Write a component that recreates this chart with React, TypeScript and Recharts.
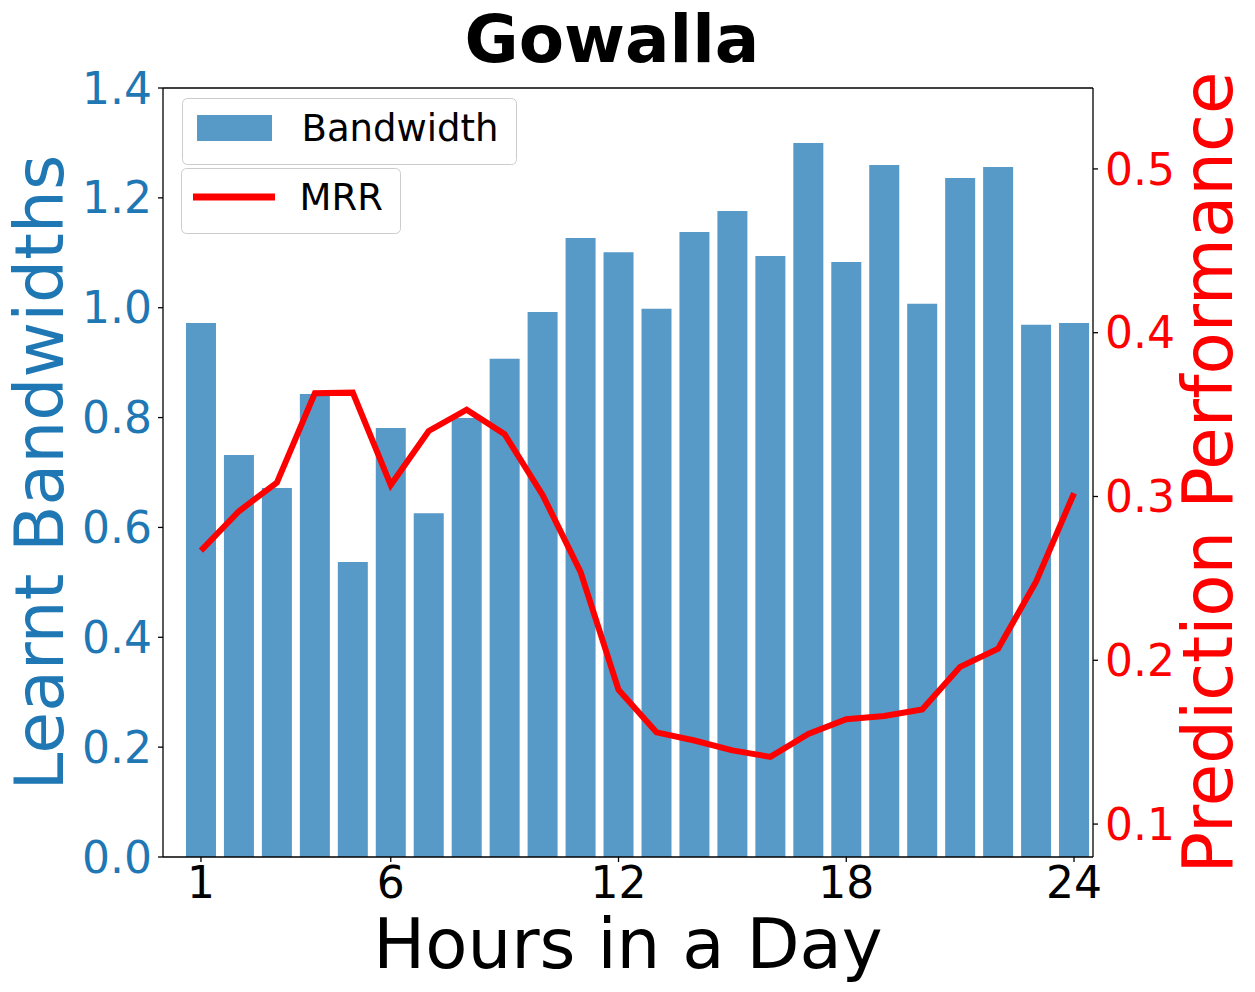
import { ComposedChart, Bar, Line, XAxis, YAxis, Legend, ReferenceLine, Label } from 'recharts';

const hours = [1, 2, 3, 4, 5, 6, 7, 8, 9, 10, 11, 12, 13, 14, 15, 16, 17, 18, 19, 20, 21, 22, 23, 24];
const bandwidth = [
  0.972, 0.732, 0.672, 0.843, 0.537, 0.781, 0.626, 0.799, 0.907, 0.992, 1.127, 1.101,
  0.998, 1.138, 1.176, 1.094, 1.3, 1.083, 1.26, 1.007, 1.236, 1.256, 0.969, 0.972,
];
const mrr = [
  0.267, 0.291, 0.3085, 0.363, 0.3634, 0.307, 0.34, 0.353, 0.338, 0.301, 0.254, 0.182,
  0.156, 0.151, 0.145, 0.141, 0.155, 0.164, 0.166, 0.17, 0.196, 0.207, 0.248, 0.302,
];
const xTicks = [1, 6, 12, 18, 24];
const leftTicks = [0, 0.2, 0.4, 0.6, 0.8, 1.0, 1.2, 1.4];
const rightTicks = [0.1, 0.2, 0.3, 0.4, 0.5];

const data = hours.map((h, i) => ({ hour: h, bandwidth: bandwidth[i], mrr: mrr[i] }));

const FONT = 'DejaVu Sans';
const BLUE = '#1f77b4';

// wrapper sits at the page origin; plot box 163..1093 x 88..857
const renderLegend = () => (
  <svg width={600} height={260} style={{ position: 'absolute', left: 0, top: 0, pointerEvents: 'none' }}>
    <rect x={182.5} y={98.5} width={334} height={66} rx={5} fill='#fff' fillOpacity={0.8} stroke='#cccccc' />
    <rect x={197} y={115} width={75} height={26} fill={BLUE} fillOpacity={0.75} />
    <text x={301.5} y={141} fontFamily={FONT} fontSize={37} fill='#000'>Bandwidth</text>
    <rect x={181.5} y={168.5} width={219} height={65} rx={5} fill='#fff' fillOpacity={0.8} stroke='#cccccc' />
    <line x1={193} x2={275} y1={197} y2={197} stroke='#ff0000' strokeWidth={7} />
    <text x={299.5} y={210} fontFamily={FONT} fontSize={37} fill='#000'>MRR</text>
  </svg>
);

export default function App() {
  return (
    <div style={{ position: 'relative', width: 1255, height: 992, marginLeft: -8, marginTop: -8 }}>
      <svg width={1255} height={88} style={{ position: 'absolute', left: 0, top: 0 }}>
        <text x={612} y={62} textAnchor='middle' fontFamily={FONT} fontSize={66} fontWeight='bold' fill='#000'>
          Gowalla
        </text>
      </svg>
      <ComposedChart width={1255} height={992} data={data} margin={{ top: 88, right: 0, bottom: 0, left: 0 }}>
        <XAxis
          dataKey='hour'
          type='number'
          domain={[0, 24.5]}
          ticks={xTicks}
          allowDataOverflow
          height={135}
          tickSize={5}
          tickMargin={5}
          tick={{ fill: '#000', fontSize: 44, fontFamily: FONT }}
          stroke='#000'
          strokeWidth={1.3}
        >
          <Label
            content={() => (
              <text x={628} y={968} textAnchor='middle' fontFamily={FONT} fontSize={69} fill='#000'>
                Hours in a Day
              </text>
            )}
          />
        </XAxis>
        <YAxis
          yAxisId='left'
          orientation='left'
          domain={[0, 1.4]}
          ticks={leftTicks}
          allowDataOverflow
          width={163}
          tickSize={5}
          tickMargin={6}
          tickFormatter={(v: number) => v.toFixed(1)}
          tick={{ fill: BLUE, fontSize: 44, fontFamily: FONT }}
          stroke='#000'
          strokeWidth={1.3}
        >
          <Label
            content={() => (
              <text
                x={63}
                y={472.5}
                transform='rotate(-90 63 472.5)'
                textAnchor='middle'
                fontFamily={FONT}
                fontSize={68}
                fill={BLUE}
              >
                Learnt Bandwidths
              </text>
            )}
          />
        </YAxis>
        <YAxis
          yAxisId='right'
          orientation='right'
          domain={[0.0799, 0.5494]}
          ticks={rightTicks}
          allowDataOverflow
          width={162}
          tickSize={5}
          tickMargin={7}
          tickFormatter={(v: number) => v.toFixed(1)}
          tick={{ fill: '#ff0000', fontSize: 44, fontFamily: FONT }}
          stroke='#000'
          strokeWidth={1.3}
        >
          <Label
            content={() => (
              <text
                x={1232}
                y={472.5}
                transform='rotate(-90 1232 472.5)'
                textAnchor='middle'
                fontFamily={FONT}
                fontSize={69}
                fill='#ff0000'
              >
                Prediction Performance
              </text>
            )}
          />
        </YAxis>
        <ReferenceLine yAxisId='left' y={1.4} stroke='#000' strokeWidth={1.3} />
        <Bar yAxisId='left' dataKey='bandwidth' name='Bandwidth' fill={BLUE} fillOpacity={0.75} barSize={30} isAnimationActive={false} />
        <Line
          yAxisId='right'
          dataKey='mrr'
          name='MRR'
          type='linear'
          stroke='#ff0000'
          strokeWidth={6}
          dot={false}
          isAnimationActive={false}
        />
        <Legend
          layout='vertical'
          align='center'
          verticalAlign='middle'
          content={renderLegend}
          wrapperStyle={{ left: 0, top: 0, width: 0, height: 0 }}
        />
      </ComposedChart>
    </div>
  );
}
